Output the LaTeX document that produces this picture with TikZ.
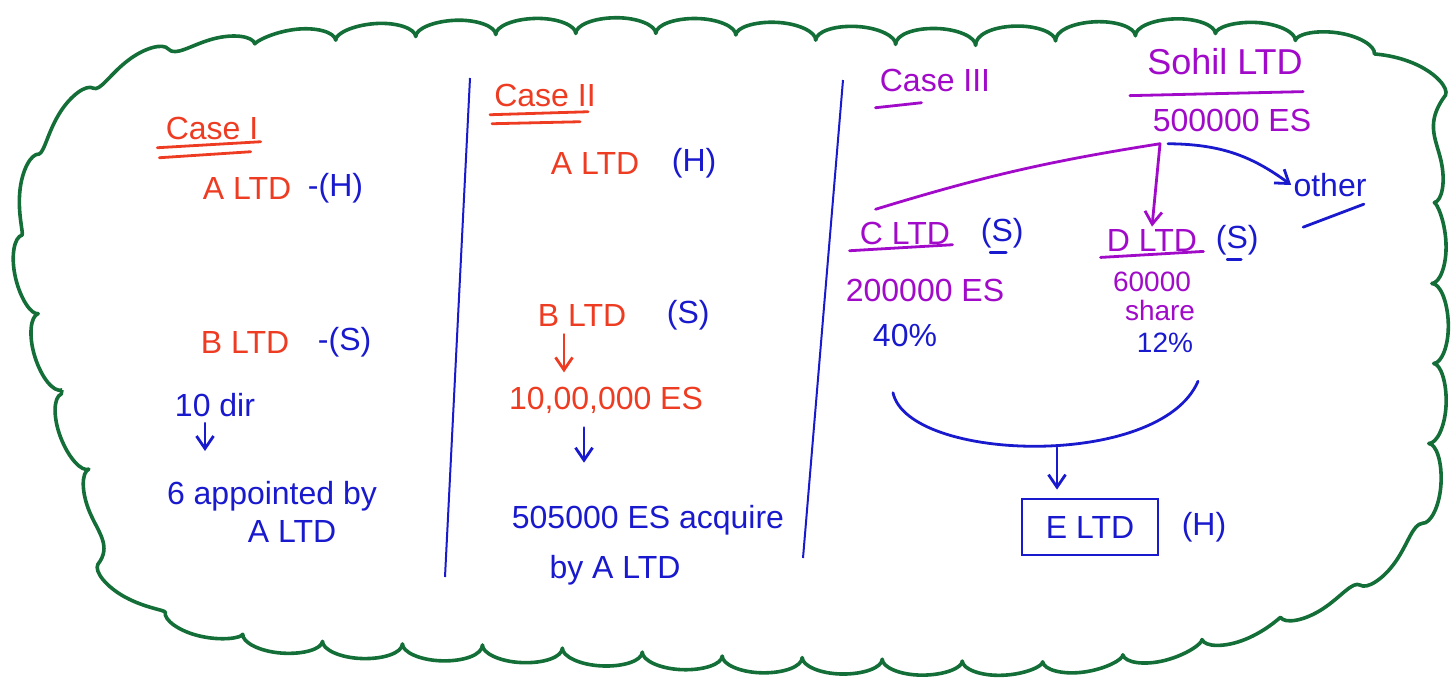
\documentclass[tikz,border=0pt]{standalone}
\usepackage{fontspec}
\setmainfont{Liberation Sans}
\usepackage{xcolor}
\usetikzlibrary{arrows.meta, positioning, calc, decorations.pathmorphing}

\definecolor{inkred}{RGB}{238,60,35}
\definecolor{inkblue}{RGB}{25,25,205}
\definecolor{inkpurple}{RGB}{160,10,200}
\definecolor{inkgreen}{RGB}{20,110,55}

\begin{document}
\begin{tikzpicture}[
        x=0.5pt, y=-0.5pt,
        font=\fontsize{16}{19}\selectfont,
        every node/.style = {align=center, inner sep=1pt},
        redtxt/.style  = {text=inkred},
        bluetxt/.style = {text=inkblue},
        purptxt/.style = {text=inkpurple},
        small/.style   = {font=\fontsize{14}{16}\selectfont},
        ink/.style     = {line width=1.4pt, line cap=round, line join=round},
        arr/.style     = {ink, -{Straight Barb[length=2.2mm, width=3mm]}},
        ebox/.style    = {draw=inkblue, line width=1.4pt, text=inkblue,
                          minimum width=68pt, minimum height=28pt},
        divider/.style = {draw=inkblue, line width=1pt},
        cloudline/.style = {draw=inkgreen, line width=1.8pt, line join=round,
                            decorate, decoration={bumps, segment length=80pt,
                            amplitude=8pt}}
    ]
    \useasboundingbox (0,0) rectangle (1454,682);

    % --- Cloud border ---
    \draw[cloudline] plot[smooth cycle, tension=0.6] coordinates {
        (118,538) (62,390) (32,262) (48,165) (82,130) (112,94) (200,60)
        (375,40) (650,34) (928,44) (1206,36) (1376,64) (1420,140)
        (1430,260) (1430,390) (1410,512) (1303,598) (1110,652) (835,658)
        (557,648) (282,636) (154,594)};

    % --- Dividers ---
    \draw[divider] (470,78) -- (445,577);
    \draw[divider] (843,80) -- (803,558);

    % --- Case I ---
    \node[redtxt] (caseone) at (212,128) {Case I};
    \node[redtxt] (aone) at (247,188) {A LTD};
    \node[bluetxt, right=6pt of aone] (hone) {-(H)};
    \node[redtxt] (bone) at (245,342) {B LTD};
    \node[bluetxt, right=12pt of bone] (sone) {-(S)};
    \node[bluetxt] (dir) at (215,405) {10 dir};
    \node[bluetxt] (appt) at (272,512) {6 appointed by\\\hspace*{20pt}A LTD};

    \draw[ink, draw=inkred] ($(caseone.south west)+(-6,6)$) -- ($(caseone.south east)+(0,0)$);
    \draw[ink, draw=inkred] ($(caseone.south west)+(-4,16)$) -- ($(caseone.south east)+(-10,10)$);
    \draw[arr, draw=inkblue, shorten <=2pt, shorten >=14pt]
        ([xshift=-5pt]dir.south) -- ([xshift=-5pt]dir.south |- appt.north);

    % --- Case II ---
    \node[redtxt] (casetwo) at (545,95) {Case II};
    \node[redtxt] (atwo) at (595,163) {A LTD};
    \node[bluetxt, right=14pt of atwo] (htwo) {(H)};
    \node[redtxt] (btwo) at (582,315) {B LTD};
    \node[bluetxt, right=18pt of btwo] (stwo) {(S)};
    \node[redtxt] (estwo) at (606,400) {10,00,000 ES};
    \node[bluetxt] (acq) at (648,520) {505000 ES acquire};
    \node[bluetxt] (byaltd) at (615,570) {by A LTD};

    \draw[ink, draw=inkred] ($(casetwo.south west)+(-2,6)$) -- ($(casetwo.south east)+(-10,3)$);
    \draw[ink, draw=inkred] ($(casetwo.south west)+(0,15)$) -- ($(casetwo.south east)+(-18,13)$);
    \draw[arr, draw=inkred, shorten <=3pt, shorten >=6pt]
        ([xshift=-9pt]btwo.south) -- ([xshift=-9pt]btwo.south |- estwo.north);
    \draw[arr, draw=inkblue, shorten <=6pt, shorten >=20pt]
        ([xshift=-11pt]estwo.south) -- ([xshift=-11pt]estwo.south |- acq.north);

    % --- Case III ---
    \node[purptxt] (casethree) at (935,80) {Case III};
    \node[purptxt, font=\fontsize{18}{21}\selectfont] (sohil) at (1225,62) {Sohil LTD};
    \node[purptxt] (so) at (1232,120) {500000 ES};
    \node[purptxt] (cltd) at (905,233) {C LTD};
    \node[bluetxt, right=13pt of cltd] (csub) {(S)};
    \node[purptxt] (dltd) at (1152,240) {D LTD};
    \node[bluetxt, right=7pt of dltd] (dsub) {(S)};
    \node[purptxt] (cshare) at (925,290) {200000 ES};
    \node[bluetxt] (cpct) at (905,335) {40\%};
    \node[purptxt, small] (dshare) at (1152,282) {60000};
    \node[purptxt, small] (dword) at (1160,310) {share};
    \node[bluetxt, small] (dpct) at (1165,343) {12\%};
    \node[bluetxt] (other) at (1330,185) {other};
    \node[ebox] (eltd) at (1090,527) {E LTD};
    \node[bluetxt, right=10pt of eltd] (ehold) {(H)};

    \draw[ink, draw=inkpurple] ($(casethree.south west)+(-2,14)$) -- ($(casethree.south west)+(44,9)$);
    \draw[ink, draw=inkpurple] ($(sohil.south west)+(-15,18)$) -- ($(sohil.south east)+(-2,14)$);
    \draw[ink, draw=inkpurple] ($(cltd.south west)+(-8,4)$) -- ($(cltd.south east)+(0,-2)$);
    \draw[ink, draw=inkpurple] ($(dltd.south west)+(-4,4)$) -- ($(dltd.south east)+(4,-2)$);
    \draw[ink, draw=inkblue] ($(csub.south)+(-12,2)$) -- ($(csub.south)+(4,2)$);
    \draw[ink, draw=inkblue] ($(dsub.south)+(-10,2)$) -- ($(dsub.south)+(4,2)$);
    \draw[ink, draw=inkblue] ($(other.south west)+(12,28)$) -- ($(other.south east)+(-5,5)$);

    \coordinate (split) at ($(so.south)+(-72,10)$);
    \draw[ink, draw=inkpurple] (split) to[bend right=4] ($(cltd.north west)+(18,-10)$);
    \draw[arr, draw=inkpurple] (split) -- (dltd.north);
    \draw[arr, draw=inkblue] ($(split)+(8,0)$) to[bend left=18] (other.west);

    % --- Join into E LTD ---
    \coordinate (cjoin) at ($(cpct.south)+(-12,44)$);
    \coordinate (djoin) at ($(dpct.south)+(33,26)$);
    \coordinate (jmid) at ($(eltd.north)+(-33,-50)$);
    \draw[ink, draw=inkblue] (cjoin) .. controls (908,462) and (1160,470) .. (djoin);
    \draw[arr, draw=inkblue, shorten >=4pt]
        (jmid) -- (jmid |- eltd.north);
\end{tikzpicture}
\end{document}
